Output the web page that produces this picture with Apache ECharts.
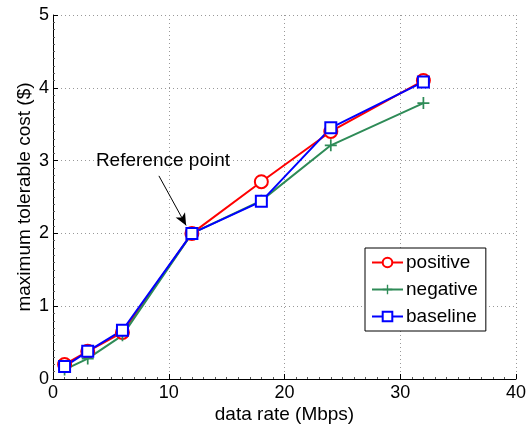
<!DOCTYPE html>
<html>
<head>
<meta charset="utf-8">
<script src="https://cdn.jsdelivr.net/npm/echarts@6/dist/echarts.min.js"></script>
<style>html,body{margin:0;padding:0;background:#fff}#c{width:531px;height:426px}</style>
</head>
<body>
<div id="c"></div>
<script>
var xRates = [1, 3, 6, 12, 18, 24, 32];
var positive = [0.20, 0.38, 0.64, 2.00, 2.71, 3.40, 4.10];
var negative = [0.13, 0.28, 0.60, 2.00, 2.45, 3.21, 3.79];
var baseline = [0.17, 0.38, 0.67, 2.00, 2.44, 3.45, 4.08];
var xTicks = [0, 10, 20, 30, 40];
var yTicks = [0, 1, 2, 3, 4, 5];
var annotText = 'Reference point';
var annotTextPos = [9.5, 3.0];
var arrowFrom = [9.15, 2.79];
var arrowTo = [11.5, 2.11];

function pairs(ys) { return xRates.map(function (x, i) { return [x, ys[i]]; }); }

var FONT = 'Liberation Sans';
var plusPath = 'path://M-1,-7 L1,-7 L1,-1 L7,-1 L7,1 L1,1 L1,7 L-1,7 L-1,1 L-7,1 L-7,-1 L-1,-1 Z';

var chart = echarts.init(document.getElementById('c'), null, {renderer: 'canvas'});
chart.setOption({
  animation: false,
  textStyle: {fontFamily: FONT},
  grid: {left: 53, right: 15, top: 15, bottom: 47, containLabel: false, outerBoundsMode: 'none'},
  xAxis: {
    type: 'value', min: xTicks[0], max: xTicks[xTicks.length - 1], interval: 10,
    name: 'data rate (Mbps)', nameLocation: 'middle', nameGap: 26, nameMoveOverlap: false,
    nameTextStyle: {color: '#000', fontSize: 19, fontFamily: FONT},
    axisLine: {show: true, onZero: false, lineStyle: {color: '#000', width: 1}},
    axisTick: {show: true, inside: true, length: 5, lineStyle: {color: '#000'}},
    minorTick: {show: true, splitNumber: 10, length: 2, lineStyle: {color: '#555'}},
    axisLabel: {color: '#000', fontSize: 18, margin: 5, fontFamily: FONT},
    splitLine: {show: true, lineStyle: {color: '#999', type: [1, 3], width: 1}}
  },
  yAxis: {
    type: 'value', min: yTicks[0], max: yTicks[yTicks.length - 1], interval: 1,
    name: 'maximum tolerable cost ($)', nameLocation: 'middle', nameGap: 19, nameMoveOverlap: false,
    nameTextStyle: {color: '#000', fontSize: 19, fontFamily: FONT},
    axisLine: {show: true, onZero: false, lineStyle: {color: '#000', width: 1}},
    axisTick: {show: true, inside: true, length: 5, lineStyle: {color: '#000'}},
    minorTick: {show: true, splitNumber: 10, length: 2, lineStyle: {color: '#555'}},
    axisLabel: {color: '#000', fontSize: 18, margin: 4, fontFamily: FONT},
    splitLine: {show: true, lineStyle: {color: '#999', type: [1, 3], width: 1}}
  },
  legend: {
    orient: 'vertical', left: 365, top: 248,
    backgroundColor: '#fff', borderColor: '#000', borderWidth: 1,
    padding: [5, 8, 5, 6], itemGap: 8, itemWidth: 31, itemHeight: 12,
    textStyle: {color: '#000', fontSize: 19, fontFamily: FONT, padding: [0, 0, 0, -2]},
    data: ['positive', 'negative', 'baseline']
  },
  series: [
    {
      name: 'positive', type: 'line', data: pairs(positive),
      symbol: 'emptyCircle', symbolSize: 13,
      lineStyle: {color: '#ff0000', width: 2},
      itemStyle: {color: '#ff0000', borderWidth: 2, borderColor: '#ff0000'}
    },
    {
      name: 'negative', type: 'line', data: pairs(negative),
      symbol: plusPath, symbolSize: 12,
      lineStyle: {color: '#2e8b57', width: 2},
      itemStyle: {color: '#2e8b57'}
    },
    {
      name: 'baseline', type: 'line', data: pairs(baseline),
      symbol: 'emptyRect', symbolSize: 11,
      lineStyle: {color: '#0000ff', width: 2},
      itemStyle: {color: '#0000ff', borderWidth: 2, borderColor: '#0000ff'},
      markLine: {
        silent: true, symbol: ['none', 'arrow'], symbolSize: [8, 12],
        lineStyle: {color: '#000', width: 1, type: 'solid'},
        label: {show: false},
        data: [[{coord: arrowFrom}, {coord: arrowTo}]]
      },
      markPoint: {
        silent: true, symbol: 'circle', symbolSize: 1,
        itemStyle: {color: 'rgba(0,0,0,0)'},
        label: {show: true, position: 'inside', color: '#000', fontSize: 19, fontFamily: FONT, formatter: annotText},
        data: [{coord: annotTextPos}]
      }
    }
  ]
});
</script>
</body>
</html>
